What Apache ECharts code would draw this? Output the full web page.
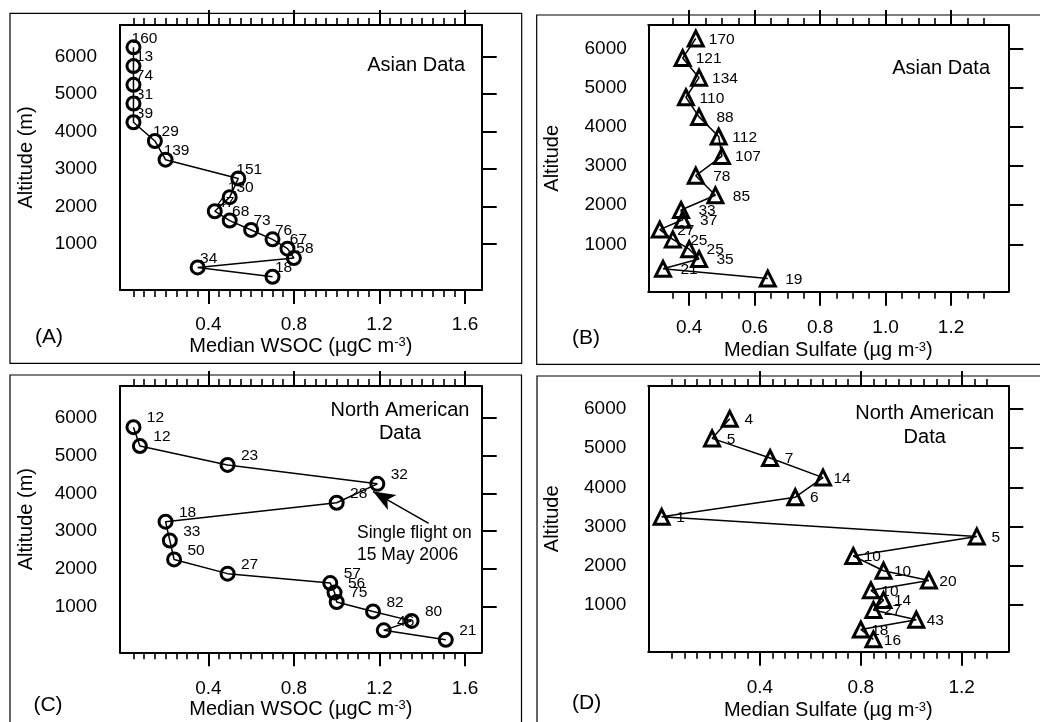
<!DOCTYPE html>
<html><head><meta charset="utf-8">
<script src="https://cdn.jsdelivr.net/npm/echarts@6/dist/echarts.min.js"></script>
<style>html,body{margin:0;padding:0;background:#fff}#c{width:1040px;height:722px}</style>
</head><body><div id="c"></div>
<script>
// ---------- DATA ----------
// Panel A: Asian data, median WSOC
const altA  = [6250,5750,5250,4750,4250,3750,3250,2750,2250,1875,1625,1375,1125,875,625,375,125];
const wsocA = [0.05,0.05,0.05,0.05,0.05,0.15,0.20,0.54,0.50,0.43,0.50,0.60,0.70,0.77,0.80,0.35,0.70];
const nA    = ['160','13','74','31','39','129','139','151','130','47','68','73','76','67','58','34','18'];
// Panel B: Asian data, median sulfate
const altB  = [6250,5750,5250,4750,4250,3750,3250,2750,2250,1875,1625,1375,1125,875,625,375,125];
const sulfB = [0.42,0.38,0.43,0.39,0.43,0.49,0.50,0.42,0.48,0.375,0.38,0.31,0.35,0.40,0.43,0.32,0.64];
const nB    = ['170','121','134','110','88','112','107','78','85','33','37','27','25','25','35','21','19'];
// Panel C: North American data, median WSOC
const altC  = [5750,5250,4750,4250,3750,3250,2750,2250,1875,1625,1375,1125,875,625,375,125];
const wsocC = [0.05,0.08,0.49,1.19,1.00,0.20,0.22,0.24,0.49,0.97,0.99,1.00,1.17,1.35,1.22,1.51];
const nC    = ['12','12','23','32','28','18','33','50','27','57','56','75','82','80','46','21'];
// Panel D: North American data, median sulfate
const altD  = [5750,5250,4750,4250,3750,3250,2750,2250,1875,1625,1375,1125,875,625,375,125];
const sulfD = [0.28,0.21,0.44,0.65,0.54,0.01,1.26,0.77,0.89,1.07,0.84,0.89,0.85,1.02,0.80,0.85];
const nD    = ['4','5','7','14','6','1','5','10','10','20','10','14','27','43','18','16'];
// Annotation arrow in panel C (tail, head tip) in data units
const arrowC = [[1.43, 3205], [1.17, 4045]];

// Tick values
const yTicks   = [1000,2000,3000,4000,5000,6000];
const xMajorAC = [0.4,0.8,1.2,1.6];
const xMajorB  = [0.4,0.6,0.8,1.0,1.2];
const xMajorD  = [0.4,0.8,1.2];
function tickRun(a,b,s){const r=[];for(let v=a;v<=b+1e-9;v+=s)r.push(Math.round(v*100)/100);return r;}
const xMinorAC = tickRun(0.05,1.60,0.05);
const xMinorB  = tickRun(0.35,1.30,0.05);
const xMinorD  = tickRun(0.05,1.30,0.05);

// ---------- LAYOUT ----------
const FONT = 'Liberation Sans';
const panels = [
  {grid:{left:120,top:25,width:361.7,height:265}, xMin:-0.013,xMax:1.678,yMin:-228,yMax:6846,
   xMajor:xMajorAC,xMinor:xMinorAC,xName:'Median WSOC (µgC m{sup|-3})',yName:'Altitude (m)',
   sym:'circle',size:13,x:wsocA,y:altA,n:nA,off:[11,-9],lm:25.5,ng:46,ylm:23,yng:84},
  {grid:{left:648.3,top:25,width:360,height:266.7}, xMin:0.275,xMax:1.375,yMin:-209,yMax:6594,
   xMajor:xMajorB,xMinor:xMinorB,xName:'Median Sulfate (µg m{sup|-3})',yName:'Altitude',
   sym:'triangle',size:15,x:sulfB,y:altB,n:nB,off:[26,1],lm:27,ng:49,ylm:21.5,yng:86},
  {grid:{left:120,top:386,width:361.7,height:266.3}, xMin:-0.013,xMax:1.678,yMin:-206,yMax:6839,
   xMajor:xMajorAC,xMinor:xMinorAC,xName:'Median WSOC (µgC m{sup|-3})',yName:'Altitude (m)',
   sym:'circle',size:13,x:wsocC,y:altC,n:nC,off:[22,-9],lm:26.5,ng:47,ylm:23,yng:84},
  {grid:{left:648.3,top:386,width:360,height:265.7}, xMin:-0.043,xMax:1.385,yMin:-191,yMax:6587,
   xMajor:xMajorD,xMinor:xMinorD,xName:'Median Sulfate (µg m{sup|-3})',yName:'Altitude',
   sym:'triangle',size:15,x:sulfD,y:altD,n:nD,off:[19,1],lm:27,ng:49,ylm:22,yng:86}
];

const grids=[], xAxes=[], yAxes=[], series=[];
const lineS = {color:'#000',width:2};
panels.forEach((p,gi)=>{
  grids.push(Object.assign({containLabel:false}, p.grid));
  const base = {gridIndex:gi,type:'value',min:p.xMin,max:p.xMax,splitLine:{show:false}};
  const xMainIdx = xAxes.length;
  xAxes.push(Object.assign({},base,{position:'bottom',
    axisLine:{show:true,onZero:false,lineStyle:lineS},
    axisTick:{show:true,customValues:p.xMajor,length:14,lineStyle:{color:'#000',width:2}},
    axisLabel:{show:true,customValues:p.xMajor,formatter:v=>Number(v).toFixed(1),margin:p.lm,
      fontFamily:FONT,fontSize:19,color:'#000'},
    name:p.xName,nameLocation:'middle',nameGap:p.ng,
    nameTextStyle:{fontFamily:FONT,fontSize:20,color:'#000',
      rich:{sup:{fontFamily:FONT,fontSize:13,color:'#000',verticalAlign:'top'}}}}));
  xAxes.push(Object.assign({},base,{position:'bottom',axisLine:{show:false,onZero:false},
    axisTick:{show:true,customValues:p.xMinor,length:7,lineStyle:{color:'#000',width:1.6}},
    axisLabel:{show:false}}));
  xAxes.push(Object.assign({},base,{position:'top',axisLine:{show:true,onZero:false,lineStyle:lineS},
    axisTick:{show:true,customValues:p.xMajor,length:15,lineStyle:{color:'#000',width:2}},
    axisLabel:{show:false}}));
  xAxes.push(Object.assign({},base,{position:'top',axisLine:{show:false,onZero:false},
    axisTick:{show:true,customValues:p.xMinor,length:7,lineStyle:{color:'#000',width:1.6}},
    axisLabel:{show:false}}));
  const yb = {gridIndex:gi,type:'value',min:p.yMin,max:p.yMax,splitLine:{show:false}};
  const yMainIdx = yAxes.length;
  yAxes.push(Object.assign({},yb,{position:'left',axisLine:{show:true,onZero:false,lineStyle:lineS},
    axisTick:{show:false},
    axisLabel:{show:true,customValues:yTicks,formatter:v=>String(v),margin:p.ylm,
      fontFamily:FONT,fontSize:19,color:'#000'},
    name:p.yName,nameLocation:'middle',nameGap:p.yng,
    nameTextStyle:{fontFamily:FONT,fontSize:20,color:'#000'}}));
  yAxes.push(Object.assign({},yb,{position:'right',axisLine:{show:true,onZero:false,lineStyle:lineS},
    axisTick:{show:true,customValues:yTicks,length:15,lineStyle:{color:'#000',width:2}},
    axisLabel:{show:false}}));
  const s = {type:'line',xAxisIndex:xMainIdx,yAxisIndex:yMainIdx,
    data:p.x.map((v,i)=>[v,p.y[i]]),
    symbol:p.sym,symbolSize:p.size,showAllSymbol:true,animation:false,
    lineStyle:{color:'#000',width:1.5},
    itemStyle:{color:'rgba(0,0,0,0)',borderColor:'#000',borderWidth:3},
    emphasis:{disabled:true},
    label:{show:true,position:'inside',offset:p.off,align:'center',verticalAlign:'middle',
      formatter:(d)=>p.n[d.dataIndex],fontFamily:FONT,fontSize:15.5,color:'#000'}};
  if (gi===2) {
    s.markLine = {silent:true,animation:false,symbol:['none','arrow'],symbolSize:[13,22],
      lineStyle:{color:'#000',width:1.6,type:'solid'},label:{show:false},
      data:[[{coord:arrowC[0]},{coord:arrowC[1]}]]};
  }
  series.push(s);
});

function txt(text,x,y,align,size,lh){
  return {type:'text',z:10,style:{text:text,x:x,y:y,textAlign:align,textVerticalAlign:'middle',
    font:size+'px "'+FONT+'"',fill:'#000',lineHeight:lh||size}};
}
function frame(x,y,w,h){
  return {type:'rect',z:0,shape:{x:x,y:y,width:w,height:h},style:{fill:'none',stroke:'#000',lineWidth:1.2}};
}

const option = {
  animation:false,
  backgroundColor:'#fff',
  grid:grids, xAxis:xAxes, yAxis:yAxes, series:series,
  graphic:[
    frame(10,13.3,511.7,350),
    frame(536.7,15,530,349.3),
    frame(10,375,511.5,370),
    frame(537,376,530,370),
    txt('Asian Data',465,65,'right',20),
    txt('Asian Data',990,68.3,'right',20),
    txt('North American\nData',400,421.7,'center',20,23.3),
    txt('North American\nData',924.7,425.3,'center',20,24),
    txt('Single flight on\n15 May 2006',357,543.7,'left',17.5,22),
    txt('(A)',49,337,'center',21),
    txt('(B)',586,338.3,'center',21),
    txt('(C)',48,705.7,'center',21),
    txt('(D)',586.7,703.3,'center',21)
  ]
};
const chart = echarts.init(document.getElementById('c'),null,{renderer:'canvas'});
chart.setOption(option);
</script></body></html>
